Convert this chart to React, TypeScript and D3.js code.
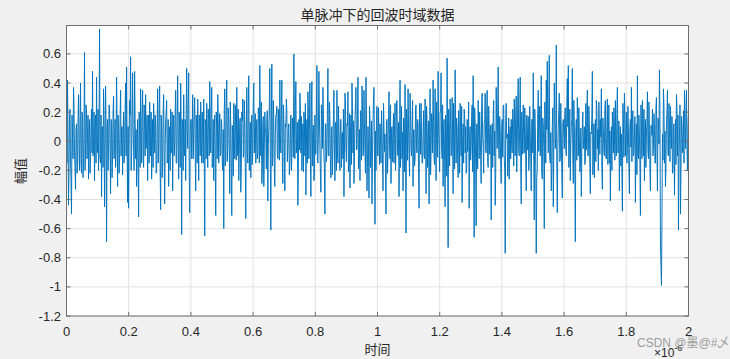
import React from "react";
import * as d3 from "d3";

// Echo amplitude samples, time 0 .. 2 (×10^-6)
const ampSeg1 = [
  0.10, 0.42, -0.44, 0.15, -0.12, -0.50, 0.05, 0.37, -0.08, -0.33,
  0.12, -0.18, 0.32, -0.20, 0.40, -0.22, 0.18, -0.15, 0.61, -0.10,
  0.20, 0.05, -0.26, 0.15, -0.12, 0.22, 0.48, -0.05, -0.27, 0.18,
  0.44, -0.08, -0.20, 0.77, -0.15, -0.38, 0.10, 0.36, -0.45, 0.38,
  -0.69, 0.15, -0.05, 0.22, -0.36, 0.12, -0.10, 0.31, 0.02, -0.18,
  0.44, -0.31, 0.10, -0.12, 0.35, 0.08, -0.23, 0.20, -0.05, 0.40,
  0.51, -0.42, -0.46, 0.28, 0.58, -0.10, 0.47, -0.05, 0.48, -0.12,
  -0.31, 0.15, -0.52, 0.08, 0.36, -0.15, 0.35, -0.18, 0.12, 0.32,
  0.05, -0.27, 0.18, 0.27, -0.10, -0.26, 0.15, 0.26, -0.08, 0.12,
  -0.20, 0.36, -0.05, 0.38, -0.47, 0.10, -0.15, 0.32, -0.43, 0.15,
  0.28, -0.12, -0.31, 0.10, 0.22, -0.08, -0.34, 0.18, -0.02, 0.35,
  -0.15, 0.45, -0.26, 0.10, 0.40, -0.64, 0.12, 0.32, -0.10, -0.27,
  0.50, -0.05, 0.47, -0.49, 0.15, -0.12, 0.32, 0.05, 0.30, -0.34,
  0.08, 0.29, -0.27, 0.12, 0.27, -0.15, 0.05, 0.29, -0.65, 0.10,
  0.26, -0.18, 0.15, 0.41, -0.08, 0.37, -0.12, -0.27, 0.18, -0.51,
  0.10, 0.32, -0.15, 0.19, -0.08, 0.12,
];
const ampSeg2 = [
  -0.20, -0.60, 0.36, -0.10,
  0.42, -0.05, 0.15, -0.36, 0.10, -0.51, 0.05, 0.26, -0.12, 0.08,
  0.37, -0.10, -0.27, 0.15, -0.35, 0.20, 0.29, -0.08, 0.12, -0.53,
  0.37, -0.15, 0.45, 0.02, -0.25, 0.18, -0.05, 0.40, 0.10, -0.15,
  0.15, -0.08, 0.19, 0.52, -0.10, -0.29, 0.12, -0.31, 0.20, 0.05,
  0.15, -0.41, 0.10, 0.50, -0.61, 0.53, -0.10, 0.12, -0.31, 0.18,
  0.24, -0.12, 0.10, 0.42, -0.08, 0.42, -0.29, 0.15, -0.34, 0.10,
  0.21, -0.05, 0.12, -0.15, 0.18, -0.10, 0.08, 0.60, -0.12, 0.41,
  0.05, -0.44, 0.15, 0.33, -0.08, -0.20, 0.12, 0.20, -0.10, -0.37,
  0.15, 0.34, -0.12, 0.40, -0.38, 0.41, 0.05, -0.27, 0.18, -0.08,
  0.52, -0.15, 0.48, -0.05, -0.35, 0.15, 0.37, -0.10, -0.50, 0.12,
  -0.08, 0.50, -0.10, 0.15, -0.25, 0.10, -0.05, 0.35, -0.27, 0.12,
  0.35, -0.15, 0.08, -0.20, 0.15, 0.05, -0.12, -0.38, 0.33, -0.05,
  0.12, 0.34, -0.15, -0.32, 0.18, 0.40, -0.08, -0.29, 0.15, 0.37,
  -0.05, 0.44, -0.12, -0.27, 0.18, 0.38, -0.10, 0.35, -0.08, 0.44,
  -0.34, 0.10, -0.39, 0.15, -0.08, -0.43, 0.12, 0.37, -0.57, -0.20,
];
const ampSeg3 = [
  0.24, -0.10, 0.05, 0.12, -0.15, 0.08, -0.34, 0.10, 0.05, -0.50,
  0.15, -0.08, 0.34, -0.12, -0.29, 0.10, 0.05, -0.15, 0.26, -0.05,
  0.28, -0.10, -0.38, 0.42, 0.05, -0.12, -0.34, 0.15, 0.39, -0.63,
  0.12, 0.36, -0.10, 0.33, -0.05, 0.10, -0.31, 0.08, -0.12, 0.25,
  -0.08, 0.12, -0.46, 0.10, 0.26, -0.15, 0.05, -0.10, 0.29, -0.36,
  0.12, -0.05, -0.43, 0.36, -0.08, 0.15, 0.42, -0.12, 0.36, -0.27,
  0.10, 0.48, -0.05, 0.20, 0.47, -0.12, -0.31, 0.15, -0.45, 0.10,
  0.57, -0.73, 0.12, 0.29, -0.10, 0.30, -0.36, 0.08, 0.49, -0.15,
  0.10, -0.25, 0.05, 0.26, -0.10, -0.42, 0.12, 0.22, -0.08, -0.22,
  0.15, 0.05, -0.46, 0.10, -0.05, 0.25, 0.45, -0.66, 0.12, -0.58,
  0.10, 0.28, -0.12, 0.05, -0.29, 0.33, -0.05, 0.12, 0.33, -0.08,
  0.35, -0.18, 0.10, 0.05, -0.54, 0.12, 0.17, -0.10, -0.44, 0.37,
  -0.05, 0.51, -0.12, 0.08, -0.29, 0.15, 0.24, -0.10, -0.77, 0.26,
  0.05, -0.12, -0.26, 0.10, 0.15, -0.08, 0.12, 0.29, -0.10, 0.31,
  -0.05, 0.43, -0.10, 0.44, -0.43, 0.10, 0.25, -0.08, 0.12, -0.34,
  0.10, 0.17, -0.12, 0.05, -0.34, 0.15,
];
const ampSeg4 = [
  0.47, -0.54, 0.10, -0.77,
  -0.20, 0.35, 0.08, -0.10, 0.45, -0.26, 0.12, -0.60, 0.15, 0.42,
  0.55, -0.08, 0.59, -0.15, -0.34, 0.10, -0.45, 0.40, -0.05, 0.66,
  -0.49, 0.10, 0.33, -0.12, 0.05, -0.39, 0.15, -0.05, 0.23, -0.10,
  0.43, 0.52, -0.05, -0.27, 0.10, 0.50, -0.29, 0.12, -0.69, 0.15,
  0.30, -0.10, 0.05, -0.15, -0.38, 0.12, -0.05, 0.10, -0.12, -0.06,
  0.35, -0.10, 0.12, -0.36, 0.05, 0.48, -0.08, -0.25, 0.15, 0.28,
  -0.05, -0.20, 0.10, 0.15, 0.36, -0.33, 0.08, -0.10, 0.28, -0.12,
  0.29, 0.05, -0.15, -0.41, 0.10, 0.20, -0.08, 0.12, 0.28, -0.10,
  0.37, -0.05, -0.34, 0.10, 0.05, -0.48, 0.12, 0.33, -0.10, 0.20,
  -0.05, 0.10, -0.36, 0.15, 0.37, 0.16, -0.10, 0.05, -0.42, 0.12,
  0.45, -0.12, 0.05, -0.51, 0.10, 0.28, -0.10, -0.27, 0.15, 0.05,
  0.34, -0.12, 0.08, -0.34, 0.10, 0.22, -0.05, 0.12, -0.15, 0.30,
  -0.34, 0.15, 0.49, -0.72, -0.99, 0.05, 0.36, -0.15, -0.31, 0.12,
  0.35, -0.10, 0.08, 0.24, -0.05, -0.22, 0.10, -0.37, 0.15, 0.32,
  -0.10, -0.61, 0.05, -0.50, 0.17, -0.08, 0.21, 0.35, -0.05, 0.35,
  -0.20, 0.19,
];

// Intermediate samples lying between the samples above (dense core of the trace)
const midSeg1 = [
  -0.15, 0.05, -0.20, 0.22, -0.28, 0.18, -0.12, 0.25, -0.18, 0.08,
  -0.22, 0.15, -0.05, 0.12, -0.15, 0.20, -0.25, 0.10, -0.20, 0.25,
  -0.12, 0.18, 0.05, -0.22, 0.12, -0.08, -0.10, 0.20, 0.08, -0.15,
  -0.05, 0.22, 0.10, -0.12, 0.18, 0.05, -0.18, 0.15, -0.05, 0.10,
  0.08, -0.20, 0.25, -0.05, 0.15, -0.25, 0.20, -0.12, 0.15, -0.05,
  0.12, 0.18, -0.22, 0.15, -0.10, 0.10, 0.05, -0.15, 0.22, -0.10,
  -0.05, 0.10, -0.05, 0.18, -0.20, 0.15, 0.10, -0.20, 0.15, 0.08,
  -0.10, -0.15, 0.20, -0.18, 0.05, 0.18, -0.12, 0.25, -0.10, -0.05,
  0.18, 0.05, -0.15, 0.12, 0.20, -0.05, -0.18, 0.12, 0.18, -0.22,
  0.12, -0.15, 0.22, -0.20, 0.18, -0.25, 0.20, -0.10, -0.05, 0.20,
  -0.15, 0.15, 0.05, -0.20, -0.08, 0.20, 0.05, -0.10, 0.20, -0.15,
  0.18, -0.05, 0.20, -0.18, 0.10, 0.15, -0.20, -0.05, 0.15, 0.20,
  0.08, 0.25, -0.15, 0.05, 0.15, 0.05, -0.12, 0.20, -0.08, 0.18,
  -0.15, 0.05, 0.18, -0.10, 0.05, 0.20, -0.15, -0.10, 0.15, -0.12,
  0.05, 0.22, -0.10, 0.12, 0.20, -0.18, 0.15, 0.10, -0.15, 0.20,
  -0.12, 0.15, 0.05, -0.10, 0.15, -0.15,
];
const midSeg2 = [
  0.08, 0.21, -0.17, 0.26,
  -0.14, 0.23, -0.06, 0.27, -0.19, 0.11, -0.24, 0.03, 0.25, -0.13,
  0.07, 0.22, -0.09, 0.16, -0.21, 0.14, -0.11, 0.28, -0.18, 0.09,
  -0.07, 0.24, -0.20, 0.13, 0.02, -0.16, 0.26, -0.08, 0.19, 0.04,
  -0.12, 0.23, -0.15, 0.11, 0.27, -0.22, 0.17, -0.06, 0.09, -0.19,
  0.21, -0.03, 0.24, -0.11, 0.14, -0.17, 0.28, -0.21, 0.06, 0.18,
  -0.09, 0.22, -0.13, 0.04, 0.19, -0.16, 0.25, -0.07, 0.12, 0.29,
  -0.14, 0.09, -0.23, 0.02, -0.20, 0.16, -0.11, 0.21, 0.24, -0.08,
  0.13, -0.18, -0.06, 0.22, 0.17, 0.03, -0.21, 0.14, 0.26, -0.02,
  -0.15, 0.19, 0.08, -0.12, 0.23, -0.17, 0.11, -0.24, -0.09, 0.20,
  -0.13, 0.07, 0.16, -0.22, 0.25, -0.05, 0.18, -0.19, 0.12, -0.14,
  0.21, -0.10, 0.27, -0.16, 0.09, -0.23, 0.17, -0.04, 0.13, -0.20,
  -0.07, 0.24, -0.12, 0.15, -0.18, 0.06, 0.22, -0.09, 0.28, -0.14,
  0.11, -0.21, 0.19, 0.03, -0.16, 0.23, 0.14, -0.11, 0.26, -0.06,
  0.17, -0.19, 0.08, 0.21, -0.13, 0.25, -0.08, 0.12, -0.22, 0.19,
  -0.15, -0.05, 0.24, -0.18, 0.14, -0.09, 0.27, -0.12, 0.07, 0.16,
];
const midSeg3 = [
  -0.09, 0.23, -0.16, 0.04, 0.21, -0.12, 0.26, -0.07, -0.19, 0.14,
  -0.22, 0.17, -0.03, 0.25, 0.08, -0.14, 0.19, 0.11, -0.20, 0.27,
  -0.08, 0.13, 0.02, -0.18, 0.24, 0.06, 0.16, -0.21, -0.05, 0.22,
  -0.13, 0.09, -0.24, 0.18, -0.10, 0.28, 0.07, -0.17, 0.23, -0.06,
  0.15, -0.20, 0.26, -0.09, 0.03, -0.15, 0.21, -0.12, 0.10, 0.24,
  -0.18, 0.14, 0.06, -0.23, 0.19, -0.08, 0.12, -0.16, 0.02, 0.27,
  -0.11, 0.08, -0.21, 0.20, -0.04, 0.25, 0.09, -0.14, 0.18, -0.24,
  -0.06, 0.22, -0.17, 0.13, -0.08, 0.04, 0.26, -0.19, 0.11, 0.16,
  -0.12, 0.21, -0.22, 0.07, 0.24, -0.03, -0.15, 0.18, 0.10, -0.20,
  -0.07, 0.27, 0.05, -0.13, 0.17, -0.21, -0.02, 0.23, -0.16, 0.12,
  -0.19, 0.08, 0.20, -0.10, 0.26, 0.04, -0.22, 0.15, -0.06, 0.19,
  -0.14, 0.24, -0.09, 0.11, 0.03, -0.18, 0.28, 0.07, -0.23, 0.13,
  0.21, -0.05, 0.17, -0.15, 0.09, -0.11, 0.25, -0.20, 0.14, 0.02,
  -0.24, 0.16, 0.06, -0.12, -0.03, 0.22, -0.17, 0.08, 0.19, -0.21,
  0.27, -0.07, 0.13, -0.16, 0.20, -0.09, 0.04, 0.23, -0.14, 0.18,
  -0.06, -0.20, 0.24, -0.11, 0.15, -0.08,
];
const midSeg4 = [
  -0.13, 0.22, -0.18, -0.25,
  0.19, -0.07, 0.24, 0.11, -0.21, 0.16, -0.04, 0.27, -0.15, 0.08,
  0.13, 0.25, -0.12, 0.06, -0.20, 0.23, -0.09, 0.18, 0.03, -0.17,
  -0.08, 0.21, -0.14, 0.26, -0.22, 0.12, 0.05, 0.19, -0.06, 0.24,
  0.10, -0.18, 0.22, -0.03, 0.15, -0.11, 0.28, -0.19, 0.07, -0.13,
  0.17, 0.23, -0.21, 0.09, -0.07, 0.20, 0.02, -0.16, 0.26, 0.14,
  -0.10, 0.24, -0.17, 0.06, 0.18, -0.23, 0.12, 0.04, -0.14, 0.21,
  0.08, 0.27, -0.09, 0.03, -0.19, 0.16, -0.06, 0.22, -0.12, 0.11,
  -0.16, 0.25, 0.07, -0.02, -0.20, 0.09, 0.23, -0.13, -0.05, 0.19,
  -0.08, 0.14, 0.02, -0.17, -0.22, 0.26, -0.11, 0.20, 0.06, -0.15,
  0.24, -0.19, 0.10, -0.04, -0.14, 0.21, -0.07, 0.17, 0.03, -0.23,
  -0.09, 0.18, -0.16, 0.25, -0.12, -0.03, 0.22, 0.08, -0.18, 0.13,
  -0.06, 0.27, -0.20, 0.11, 0.04, -0.10, 0.19, -0.15, 0.23, -0.07,
  0.16, -0.02, 0.21, -0.85, -0.55, -0.13, 0.24, 0.07, -0.18, 0.20,
  -0.09, 0.26, -0.14, 0.05, 0.17, -0.21, 0.12, -0.08, -0.16, 0.22,
  0.18, -0.11, 0.25, -0.19, 0.09, 0.03, -0.15, 0.20, 0.14, -0.06,
  0.12,
];

const timeStart = 0;
const timeEnd = 2;
const xTicks = [0, 0.2, 0.4, 0.6, 0.8, 1, 1.2, 1.4, 1.6, 1.8, 2];
const yTicks = [-1.2, -1, -0.8, -0.6, -0.4, -0.2, 0, 0.2, 0.4, 0.6];
const titleText = "单脉冲下的回波时域数据";
const xLabel = "时间";
const yLabel = "幅值";

const W = 730;
const H = 359;
const L = 66.5;
const R = 688.5;
const T = 25.5;
const B = 316;

export default function App() {
  const main = [...ampSeg1, ...ampSeg2, ...ampSeg3, ...ampSeg4];
  const mid = [...midSeg1, ...midSeg2, ...midSeg3, ...midSeg4];
  const amp: number[] = [];
  main.forEach((v, i) => {
    amp.push(v);
    if (i < main.length - 1 && i < mid.length) amp.push(mid[i]);
  });
  const n = amp.length;
  const tScale = d3.scaleLinear().domain([0, n - 1]).range([timeStart, timeEnd]);
  const x = d3.scaleLinear().domain([timeStart, timeEnd]).range([L, R]);
  const y = d3.scaleLinear().domain([-1.2, 0.795]).range([B, T]);
  const line = d3
    .line<number>()
    .x((_, i) => x(tScale(i)))
    .y((d) => y(d));
  const tickFont = "Arial, 'Liberation Sans', Helvetica, sans-serif";
  const cjkFont = "'Noto Sans CJK SC', sans-serif";
  const tk = 4;
  return (
    <svg
      width={W}
      height={H}
      style={{ position: "absolute", left: 0, top: 0, display: "block" }}
    >
      <rect x={0} y={0} width={W} height={H} fill="#f0f0f0" />
      <rect x={L} y={T} width={R - L} height={B - T} fill="#ffffff" />
      {xTicks.map((t) => (
        <line key={"gx" + t} x1={x(t)} x2={x(t)} y1={T} y2={B} stroke="#e2e2e2" strokeWidth={1} />
      ))}
      {yTicks.map((t) => (
        <line key={"gy" + t} x1={L} x2={R} y1={y(t)} y2={y(t)} stroke="#e2e2e2" strokeWidth={1} />
      ))}
      <path d={line(amp) || ""} fill="none" stroke="#0072bd" strokeWidth={0.95} strokeLinejoin="round" />
      <rect x={L} y={T} width={R - L} height={B - T} fill="none" stroke="#6e6e6e" strokeWidth={1} />
      {xTicks.map((t) => (
        <g key={"tx" + t}>
          <line x1={x(t)} x2={x(t)} y1={B} y2={B - tk} stroke="#6e6e6e" />
          <line x1={x(t)} x2={x(t)} y1={T} y2={T + tk} stroke="#6e6e6e" />
          <text x={x(t)} y={336} textAnchor="middle" fontFamily={tickFont} fontSize={13} fill="#262626">
            {String(t)}
          </text>
        </g>
      ))}
      {yTicks.map((t) => (
        <g key={"ty" + t}>
          <line x1={L} x2={L + tk} y1={y(t)} y2={y(t)} stroke="#6e6e6e" />
          <line x1={R} x2={R - tk} y1={y(t)} y2={y(t)} stroke="#6e6e6e" />
          <text x={61} y={y(t)} dy="0.35em" textAnchor="end" fontFamily={tickFont} fontSize={13} fill="#262626">
            {String(t)}
          </text>
        </g>
      ))}
      <text x={(L + R) / 2} y={20} textAnchor="middle" fontFamily={cjkFont} fontSize={14} fill="#262626">
        {titleText}
      </text>
      <text x={(L + R) / 2} y={354} textAnchor="middle" fontFamily={cjkFont} fontSize={13} fill="#262626">
        {xLabel}
      </text>
      <text
        transform={`translate(25, ${171}) rotate(-90)`}
        textAnchor="middle"
        fontFamily={cjkFont}
        fontSize={13}
        fill="#262626"
      >
        {yLabel}
      </text>
      <text x={654} y={357} fontFamily={tickFont} fontSize={12} fill="#262626">
        ×10
        <tspan dy={-6} fontSize={9}>
          -6
        </tspan>
      </text>
      <text
        x={637}
        y={347}
        fontFamily={"Arial, 'Noto Sans CJK SC', sans-serif"}
        fontSize={12}
        fill="#8a8a8a"
        fillOpacity={0.85}
      >
        CSDN @墨@#乄
      </text>
    </svg>
  );
}
